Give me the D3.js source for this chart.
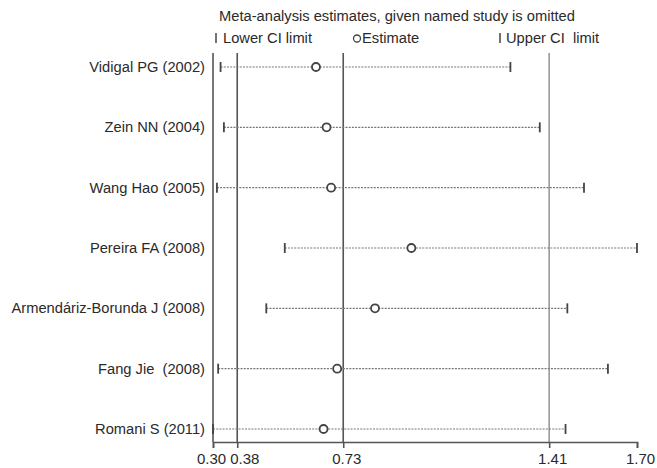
<!DOCTYPE html>
<html>
<head>
<meta charset="utf-8">
<script src="https://cdn.jsdelivr.net/npm/d3@7"></script>
<style>
  body { margin: 0; background: #fff; }
  text { font-family: "Liberation Sans", Arial, sans-serif; fill: #2a2a2a; white-space: pre; }
</style>
</head>
<body>
<div id="chart"></div>
<script>
// Study names (study omitted in each row)
var studies = ["Vidigal PG (2002)", "Zein NN (2004)", "Wang Hao (2005)", "Pereira FA (2008)",
  "Armendáriz-Borunda J (2008)", "Fang Jie  (2008)", "Romani S (2011)"];
// Estimates with lower / upper CI limits
var estimates = [0.64, 0.675, 0.69, 0.955, 0.835, 0.71, 0.665];
var lowerCI = [0.325, 0.336, 0.313, 0.537, 0.476, 0.317, 0.30];
var upperCI = [1.282, 1.379, 1.525, 1.70, 1.470, 1.604, 1.464];
// Reference lines: min, overall lower CI, overall estimate, overall upper CI
var refLines = [0.30, 0.38, 0.73, 1.41];
var tickValues = [0.30, 0.38, 0.73, 1.41, 1.70];

var svgWidth = 657;
var svgHeight = 468;
var fontSize = 14.7;

var svg = d3.select("#chart")
  .append("svg")
  .attr("width", svgWidth)
  .attr("height", svgHeight);

var xScale = d3.scaleLinear()
  .domain([0.30, 1.70])
  .range([213, 637]);

var yScale = d3.scalePoint()
  .domain(studies)
  .range([67, 429]);

var plotTop = 53;
var axisY = 442;

// Title and legend
svg.append("text")
  .attr("x", 219)
  .attr("y", 21)
  .attr("font-size", fontSize)
  .text("Meta-analysis estimates, given named study is omitted");

var legend = svg.append("g");
legend.append("line")
  .attr("x1", 216).attr("x2", 216)
  .attr("y1", 33).attr("y2", 43)
  .attr("stroke", "#444").attr("stroke-width", 1.5);
legend.append("text").attr("x", 223).attr("y", 43).attr("font-size", fontSize).text("Lower CI limit");
legend.append("circle")
  .attr("cx", 357).attr("cy", 38.5).attr("r", 3.5)
  .attr("fill", "none").attr("stroke", "#444").attr("stroke-width", 1.3);
legend.append("text").attr("x", 362).attr("y", 43).attr("font-size", fontSize).text("Estimate");
legend.append("line")
  .attr("x1", 500).attr("x2", 500)
  .attr("y1", 33).attr("y2", 43)
  .attr("stroke", "#444").attr("stroke-width", 1.5);
legend.append("text").attr("x", 506).attr("y", 43).attr("font-size", fontSize).text("Upper CI  limit");

// Vertical reference lines
svg.selectAll(".ref")
  .data(refLines)
  .enter()
  .append("line")
  .attr("x1", d => xScale(d))
  .attr("x2", d => xScale(d))
  .attr("y1", plotTop)
  .attr("y2", axisY)
  .attr("stroke", (d, i) => i === 3 ? "#999" : "#555")
  .attr("stroke-width", 1.6);

// Dotted CI lines
svg.selectAll(".ci")
  .data(studies)
  .enter()
  .append("line")
  .attr("x1", (d, i) => xScale(lowerCI[i]))
  .attr("x2", (d, i) => xScale(upperCI[i]))
  .attr("y1", d => yScale(d))
  .attr("y2", d => yScale(d))
  .attr("stroke", "#777")
  .attr("stroke-width", 1.1)
  .attr("stroke-dasharray", "2,1.2");

// CI limit caps
[lowerCI, upperCI].forEach(function(arr) {
  svg.selectAll(null)
    .data(studies)
    .enter()
    .append("line")
    .attr("x1", (d, i) => xScale(arr[i]))
    .attr("x2", (d, i) => xScale(arr[i]))
    .attr("y1", d => yScale(d) - 5)
    .attr("y2", d => yScale(d) + 5)
    .attr("stroke", "#444")
    .attr("stroke-width", 1.8);
});

// Estimates
svg.selectAll(".est")
  .data(studies)
  .enter()
  .append("circle")
  .attr("cx", (d, i) => xScale(estimates[i]))
  .attr("cy", d => yScale(d))
  .attr("r", 4)
  .attr("fill", "#fff")
  .attr("stroke", "#444")
  .attr("stroke-width", 1.8);

// Study labels
svg.selectAll(".label")
  .data(studies)
  .enter()
  .append("text")
  .attr("x", 205)
  .attr("y", d => yScale(d) + 5)
  .attr("text-anchor", "end")
  .attr("font-size", fontSize)
  .text(d => d);

// Bottom axis
var bottomAxis = d3.axisBottom(xScale)
  .tickValues(tickValues)
  .tickSize(6)
  .tickFormat(d3.format(".2f"));

var axisG = svg.append("g")
  .attr("transform", "translate(0, " + axisY + ")")
  .call(bottomAxis);

axisG.select(".domain").attr("stroke", "#555").attr("stroke-width", 1.6);
axisG.selectAll(".tick line").attr("stroke", "#555").attr("stroke-width", 1.6);
axisG.selectAll(".tick text")
  .attr("font-size", 15)
  .attr("font-family", "Liberation Sans, Arial, sans-serif")
  .attr("fill", "#2a2a2a")
  .attr("dy", "0.85em")
  .attr("dx", (d, i) => i === 1 ? 7 : (i === 0 ? -2 : 3));
</script>
</body>
</html>
